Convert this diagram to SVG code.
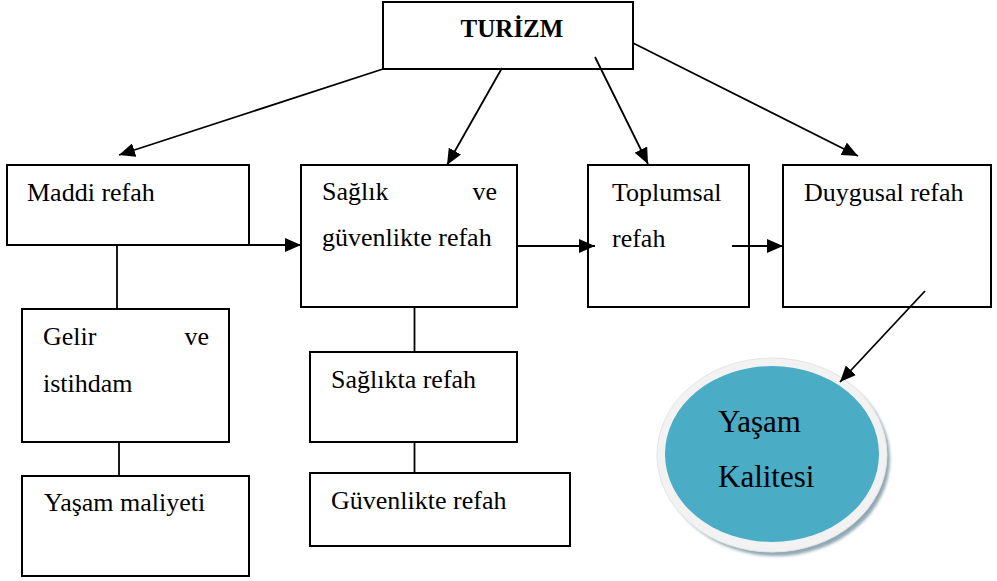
<svg xmlns="http://www.w3.org/2000/svg" width="997" height="581" viewBox="0 0 997 581">
<style>
.box{fill:#fff;stroke:#000;stroke-width:2}
.t{font-family:"Liberation Serif","Times New Roman",serif;font-size:26px;fill:#000}
.b{font-weight:bold;font-size:25px}
.c line{stroke:#000;stroke-width:1.8}
.a{marker-end:url(#ah)}
.big{font-size:31px}
</style>
<defs>
<marker id="ah" viewBox="0 0 16 14" refX="16" refY="7" markerWidth="16" markerHeight="14" markerUnits="userSpaceOnUse" orient="auto">
<path d="M0,0 L16,7 L0,14 z" fill="#000"/>
</marker>
<filter id="sh" x="-20%" y="-20%" width="140%" height="140%">
<feGaussianBlur stdDeviation="1.5"/>
</filter>
</defs>
<g id="turizm">
<rect class="box" x="383" y="2" width="250" height="67"/>
<text class="t b" x="512" y="37" text-anchor="middle">TURİZM</text>
</g>
<g id="maddi">
<rect class="box" x="7" y="165" width="242" height="80"/>
<text class="t" x="27" y="201">Maddi refah</text>
</g>
<g id="saglik">
<rect class="box" x="301" y="165" width="216" height="142"/>
<text class="t" x="322" y="200">Sağlık</text>
<text class="t" x="497" y="200" text-anchor="end">ve</text>
<text class="t" x="322" y="246">güvenlikte refah</text>
</g>
<g id="toplumsal">
<rect class="box" x="588" y="165" width="161" height="142"/>
<text class="t" x="612" y="201">Toplumsal</text>
<text class="t" x="612" y="247">refah</text>
</g>
<g id="duygusal">
<rect class="box" x="783" y="165" width="208" height="142"/>
<text class="t" x="804" y="201">Duygusal refah</text>
</g>
<g id="gelir">
<rect class="box" x="22" y="309" width="207" height="133"/>
<text class="t" x="43" y="345">Gelir</text>
<text class="t" x="209" y="345" text-anchor="end">ve</text>
<text class="t" x="43" y="392">istihdam</text>
</g>
<g id="yasam-maliyeti">
<rect class="box" x="22" y="476" width="227" height="100"/>
<text class="t" x="44" y="511">Yaşam maliyeti</text>
</g>
<g id="saglikta">
<rect class="box" x="310" y="352" width="207" height="90"/>
<text class="t" x="331" y="388">Sağlıkta refah</text>
</g>
<g id="guvenlikte">
<rect class="box" x="310" y="473" width="260" height="73"/>
<text class="t" x="331" y="509">Güvenlikte refah</text>
</g>
<g id="yasam-kalitesi">
<ellipse cx="776" cy="459" rx="114" ry="97" fill="#8fa8b4" filter="url(#sh)"/>
<ellipse cx="772" cy="455" rx="115" ry="97" fill="#f2f2f2" stroke="#e4e4e4" stroke-width="1"/>
<ellipse cx="772" cy="454" rx="107" ry="88" fill="#4bacc6"/>
<text class="t big" x="718" y="432">Yaşam</text>
<text class="t big" x="718" y="487">Kalitesi</text>
</g>
<g id="connectors" class="c">
<line class="a" x1="383" y1="69" x2="119" y2="155"/>
<line class="a" x1="502" y1="68" x2="447" y2="165"/>
<line class="a" x1="595" y1="57" x2="648" y2="164"/>
<line class="a" x1="633" y1="43" x2="858" y2="156"/>
<line class="a" x1="249" y1="245" x2="301" y2="245"/>
<line class="a" x1="517" y1="246" x2="595" y2="246"/>
<line class="a" x1="732" y1="246" x2="783" y2="246"/>
<line class="a" x1="925" y1="291" x2="840" y2="382"/>
<line x1="117" y1="245" x2="117" y2="309"/>
<line x1="119" y1="442" x2="119" y2="476"/>
<line x1="414.5" y1="307" x2="414.5" y2="352"/>
<line x1="414.5" y1="442" x2="414.5" y2="473"/>
</g>
</svg>
